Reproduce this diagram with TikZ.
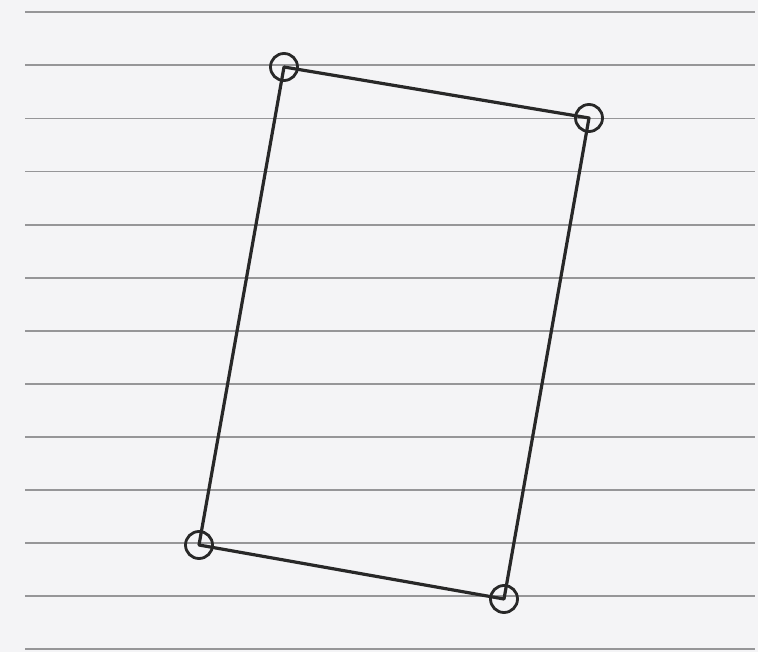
\documentclass[tikz,border=0pt]{standalone}
\definecolor{paper}{RGB}{244,244,246}
\definecolor{rule}{RGB}{150,150,152}
\definecolor{ink}{RGB}{40,40,40}
\tikzset{
  ruleline/.style={draw=rule, line width=1.8pt},
  edge/.style={draw=ink, line width=3.2pt, line join=round},
  vtx/.style={circle, draw=ink, line width=2.8pt, minimum size=27pt, inner sep=0pt}
}
\begin{document}
\begin{tikzpicture}[x=1pt,y=-1pt]
\fill[paper] (0,0) rectangle (758,652);
\useasboundingbox (0,0) rectangle (758,652);
\foreach \i in {0,...,12} {
  \draw[ruleline] (25,{12.3+53.08*\i}) -- (755,{12.3+53.08*\i});
}
\node[vtx] (a) at (284,67) {};
\node[vtx] (b) at (589,118) {};
\node[vtx] (c) at (504,599) {};
\node[vtx] (d) at (199,545) {};
\draw[edge] (a.center) -- (b.center) -- (c.center) -- (d.center) -- cycle;
\end{tikzpicture}
\end{document}
